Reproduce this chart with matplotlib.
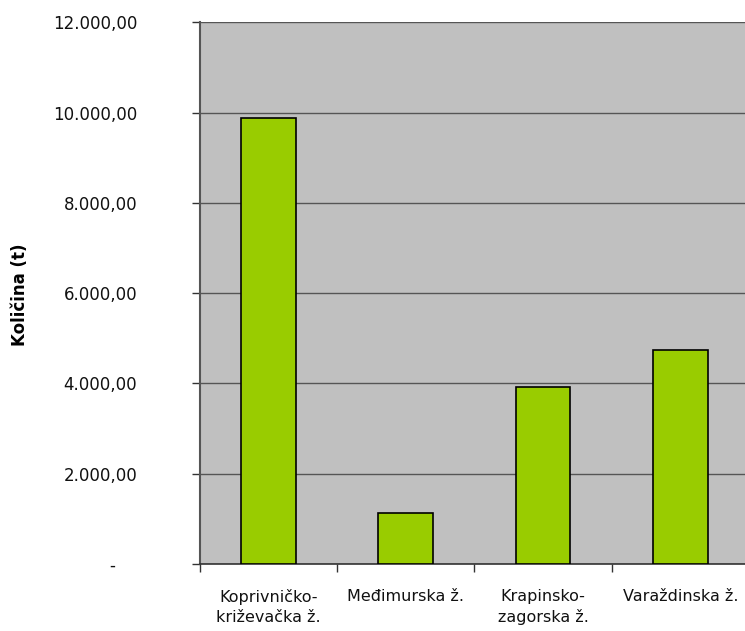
import matplotlib
matplotlib.use("Agg")
import matplotlib.pyplot as plt
from matplotlib.ticker import FuncFormatter

categories = ["Koprivničko-\nkriževačka ž.", "Međimurska ž.", "Krapinsko-\nzagorska ž.", "Varaždinska ž."]
values = [9875, 1125, 3925, 4745]
yticks = [0, 2000, 4000, 6000, 8000, 10000, 12000]

plt.rcParams['font.family'] = ['DejaVu Sans']
fig = plt.figure(figsize=(7.45, 6.31), dpi=100)
ax = fig.add_axes([199.6/745, (631-564)/631, (749-199.6)/745, (564-22.3)/631])
ax.set_facecolor('#C0C0C0')

x = list(range(len(categories)))
ax.bar(x, values, width=0.40, color='#99CC00', edgecolor='black', linewidth=1.2, zorder=3)

ax.set_xlim(-0.5, len(categories) - 0.5)
ax.set_ylim(0, 12000)
ax.set_yticks(yticks)

def fmt(v, pos):
    if v == 0:
        return "-    "
    s = f"{v:,.2f}"
    return s.replace(",", "X").replace(".", ",").replace("X", ".")

ax.yaxis.set_major_formatter(FuncFormatter(fmt))
ax.yaxis.grid(True, color='#555555', linewidth=1.0, zorder=1)
ax.set_axisbelow(True)

ax.set_xticks(x)
ax.set_xticklabels(categories, fontsize=11.5, color='#111111', linespacing=1.4)
ax.set_xticks([i - 0.5 for i in range(len(categories) + 1)], minor=True)
ax.tick_params(axis='x', which='major', length=0, pad=18)
ax.tick_params(axis='x', which='minor', length=6, color='#333333', width=1)
ax.tick_params(axis='y', length=6, color='#333333', width=1, labelsize=12, labelcolor='#111111', pad=39)
for lab in ax.get_yticklabels():
    lab.set_horizontalalignment('right')

fig.text(20/745, 1 - 295/631, "Količina (t)", fontsize=12, fontweight='bold',
         rotation=90, ha='center', va='center', color='black')

for s in ['top', 'right']:
    ax.spines[s].set_visible(False)
ax.spines['left'].set_color('#555555')
ax.spines['left'].set_linewidth(1.5)
ax.spines['bottom'].set_color('#333333')
ax.spines['bottom'].set_linewidth(1.2)

fig.savefig("out.png", dpi=100)
